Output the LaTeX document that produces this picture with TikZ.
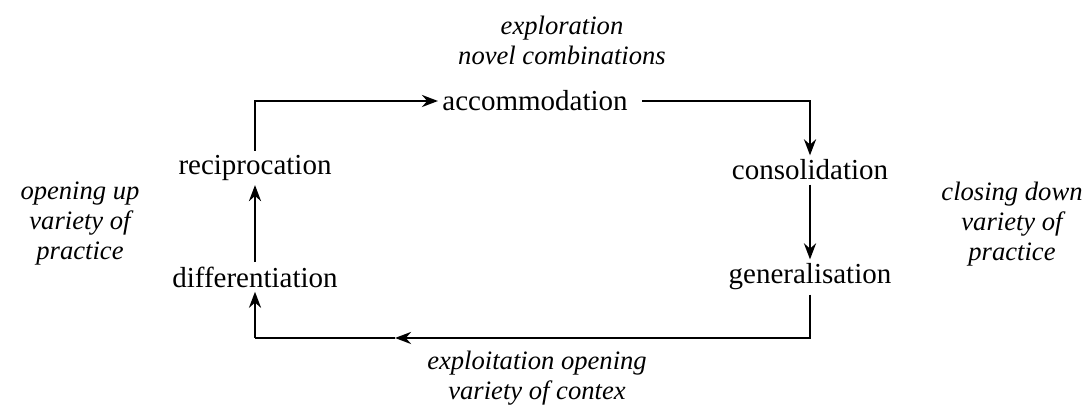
\documentclass[tikz,border=0pt]{standalone}
\usepackage{fontspec}
\setmainfont{Liberation Serif}
\usetikzlibrary{arrows.meta,positioning}

\begin{document}
\begin{tikzpicture}[x=0.5pt,y=-0.5pt]
  \tikzstyle{stage} = [inner sep=2pt, font=\fontsize{14.5}{16}\selectfont]
  \tikzstyle{note} = [align=center, inner sep=0pt, font=\fontsize{13.3}{15}\selectfont\itshape]
  \tikzstyle{arrow} = [line width=1.4pt,-{Stealth[length=8pt,width=6pt]}]
  \tikzstyle{plain} = [line width=1.4pt]
  \useasboundingbox (0,0) rectangle (1086,410);

  \node[stage] (accom) at (535,101) {accommodation};
  \node[stage] (consol) at (810,170) {consolidation};
  \node[stage] (general) at (810,277) {generalisation};
  \node[stage] (recip) at (255,168) {reciprocation};
  \node[stage] (differ) at (255,277) {differentiation};

  \node[note] (explor) at (562,40) {exploration\\novel combinations};
  \node[note] (closing) at (1012,224) {closing down\\variety of\\practice};
  \node[note] (opening) at (80,224) {opening up\\variety of\\practice};
  \node[note] (exploit) at (537,378) {exploitation opening\\variety of contex};

  \coordinate (br) at (810,338);
  \coordinate (bm) at (395,338);
  \coordinate (bl) at (255,338);

  \draw[arrow] (recip) |- (accom);
  \draw[arrow] ([xshift=5pt]accom.east) -| (consol);
  \draw[arrow] (consol) -- (general);
  \draw[arrow] (general) -- (br) -- (bm);
  \draw[plain] (bm) -- (bl);
  \draw[arrow] (bl) -- (differ);
  \draw[arrow] (differ) -- (recip);
\end{tikzpicture}
\end{document}
